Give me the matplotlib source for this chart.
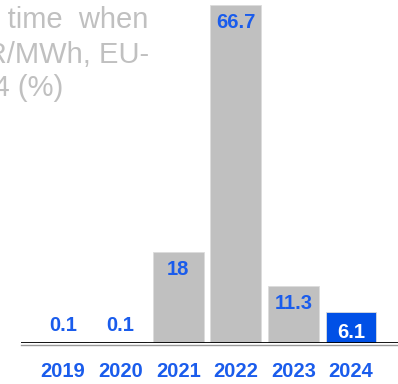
import matplotlib
matplotlib.use("Agg")
import matplotlib.pyplot as plt

years = ["2019", "2020", "2021", "2022", "2023", "2024"]
shares = [0.1, 0.1, 18, 66.7, 11.3, 6.1]
labels = ["0.1", "0.1", "18", "66.7", "11.3", "6.1"]
title_lines = ["Share  of  time  when", "prices above 100 EUR/MWh, EU-", "27, 2019-2024 (%)"]

plt.rcParams["font.family"] = ["Liberation Sans", "DejaVu Sans"]

W, H = 398, 384
fig = plt.figure(figsize=(W / 100, H / 100), dpi=100)
ax = fig.add_axes([21 / W, 41 / H, (W - 21) / W, 343 / H])

gray = "#c0c0c0"
blue = "#0050e6"
txt_blue = "#1a5cec"
colors = [gray] * 5 + [blue]

x = list(range(len(years)))
ax.bar(x, shares, width=0.885, color=colors, edgecolor="#dcdcdc", linewidth=0.6)

for i, (v, lab) in enumerate(zip(shares, labels)):
    if v < 1:
        ax.annotate(lab, (i, v), xytext=(0, 7), textcoords="offset pixels",
                    ha="center", va="bottom", color=txt_blue,
                    fontsize=14.5, fontweight="bold")
    else:
        c = "white" if i == 5 else txt_blue
        off = -11 if i == 5 else -8
        ax.annotate(lab, (i, v), xytext=(0, off), textcoords="offset pixels",
                    ha="center", va="top", color=c,
                    fontsize=14.5, fontweight="bold")

ax.set_xlim((21 - 63) / 57.6, (398 - 63) / 57.6)
ax.set_ylim(0, 343 / 5.067)
ax.axhline(0, color="black", lw=2, zorder=3)
ax.axhline(-0.35, color="#999999", lw=1, zorder=2, clip_on=False)

for s in ax.spines.values():
    s.set_visible(False)
ax.set_yticks([])
ax.set_xticks(x)
ax.set_xticklabels(years, color=txt_blue, fontsize=14.5, fontweight="bold")
ax.tick_params(axis="x", length=0, pad=14)

# title, cut off on the left like the source
rights = [148, 149, 63]
bases = [28, 63, 96]
for line, r, b in zip(title_lines, rights, bases):
    fig.text(r / W, 1 - b / H, line, ha="right", va="baseline",
             fontsize=21, color="#c0c0c0")

fig.savefig("out.png", dpi=100)
